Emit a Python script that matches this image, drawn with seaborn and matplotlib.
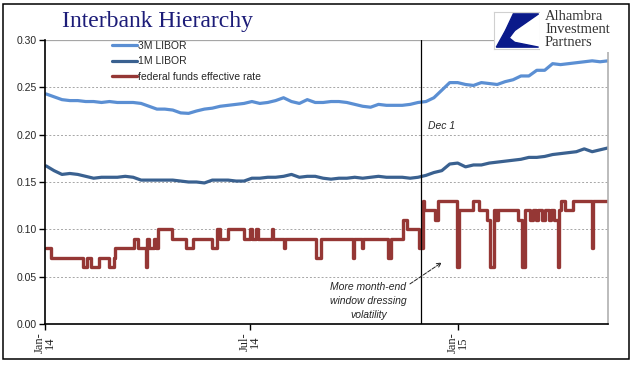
import pandas as pd
import numpy as np
import seaborn as sns
import matplotlib.pyplot as plt
import matplotlib.dates as mdates
from matplotlib.patches import Rectangle, Polygon

# weekly LIBOR readings, starting 2014-01-02
libor_start = "2014-01-02"
libor_3m = [0.243, 0.240, 0.237, 0.236, 0.236, 0.235, 0.235, 0.234, 0.235, 0.234,
            0.234, 0.234, 0.233, 0.230, 0.227, 0.227, 0.226, 0.223, 0.2225, 0.225,
            0.227, 0.228, 0.230, 0.231, 0.232, 0.233, 0.235, 0.233, 0.234, 0.236,
            0.239, 0.235, 0.233, 0.237, 0.234, 0.234, 0.235, 0.235, 0.234, 0.232,
            0.230, 0.229, 0.232, 0.231, 0.231, 0.231, 0.232, 0.234, 0.235, 0.239,
            0.247, 0.255, 0.255, 0.253, 0.252, 0.255, 0.254, 0.253, 0.256, 0.258,
            0.262, 0.262, 0.268, 0.268, 0.275, 0.274, 0.275, 0.276, 0.277, 0.278,
            0.277, 0.278]
libor_1m = [0.167, 0.162, 0.158, 0.159, 0.158, 0.156, 0.154, 0.155, 0.155, 0.155,
            0.156, 0.155, 0.152, 0.152, 0.152, 0.152, 0.152, 0.151, 0.150, 0.150,
            0.149, 0.152, 0.152, 0.152, 0.151, 0.151, 0.154, 0.154, 0.155, 0.155,
            0.156, 0.158, 0.155, 0.156, 0.156, 0.154, 0.153, 0.154, 0.154, 0.155,
            0.154, 0.155, 0.156, 0.155, 0.155, 0.155, 0.154, 0.155, 0.157, 0.160,
            0.162, 0.169, 0.170, 0.166, 0.168, 0.168, 0.170, 0.171, 0.172, 0.173,
            0.174, 0.176, 0.176, 0.177, 0.179, 0.180, 0.181, 0.182, 0.185, 0.182,
            0.184, 0.186]

# fed funds effective rate: dates where the value changes
ff_dates = ["2014-01-02", "2014-01-06", "2014-02-04", "2014-02-07", "2014-02-11",
            "2014-02-18", "2014-02-27", "2014-03-03", "2014-03-04", "2014-03-21",
            "2014-03-24", "2014-03-31", "2014-04-01", "2014-04-03", "2014-04-07",
            "2014-04-09", "2014-04-11", "2014-04-23", "2014-05-06", "2014-05-12",
            "2014-05-29", "2014-06-02", "2014-06-05", "2014-06-12", "2014-06-26",
            "2014-07-01", "2014-07-03", "2014-07-07", "2014-07-08", "2014-07-21",
            "2014-07-22", "2014-07-31", "2014-08-01", "2014-08-29", "2014-09-02",
            "2014-09-30", "2014-10-01", "2014-10-08", "2014-10-09", "2014-10-31",
            "2014-11-03", "2014-11-14", "2014-11-17", "2014-11-28", "2014-12-01",
            "2014-12-02", "2014-12-12", "2014-12-15", "2014-12-31", "2015-01-02",
            "2015-01-15", "2015-01-20", "2015-01-27", "2015-01-30", "2015-02-02",
            "2015-02-03", "2015-02-04", "2015-02-05", "2015-02-06", "2015-02-23",
            "2015-02-27", "2015-03-02", "2015-03-06", "2015-03-09", "2015-03-11",
            "2015-03-13", "2015-03-17", "2015-03-19", "2015-03-23", "2015-03-25",
            "2015-03-27", "2015-03-31", "2015-04-01", "2015-04-02", "2015-04-06",
            "2015-04-13", "2015-04-30", "2015-05-01", "2015-05-14"]
ff_values = [0.08, 0.07, 0.06, 0.07, 0.06,
             0.07, 0.06, 0.07, 0.08, 0.09,
             0.08, 0.06, 0.09, 0.08, 0.09,
             0.08, 0.10, 0.09, 0.08, 0.09,
             0.08, 0.10, 0.09, 0.10, 0.09,
             0.10, 0.09, 0.10, 0.09, 0.10,
             0.09, 0.08, 0.09, 0.07, 0.09,
             0.07, 0.09, 0.08, 0.09, 0.07,
             0.09, 0.11, 0.10, 0.08, 0.13,
             0.12, 0.11, 0.13, 0.06, 0.12,
             0.13, 0.12, 0.11, 0.06, 0.12,
             0.11, 0.12, 0.11, 0.12, 0.11,
             0.06, 0.12, 0.11, 0.12, 0.11,
             0.12, 0.11, 0.12, 0.11, 0.12,
             0.11, 0.06, 0.12, 0.13, 0.12,
             0.13, 0.08, 0.13, 0.13]

y_ticks = [0.00, 0.05, 0.10, 0.15, 0.20, 0.25, 0.30]
x_ticks = ["2014-01-01", "2014-07-01", "2015-01-01"]
x_ticklabels = ["Jan-\n14", "Jul-\n14", "Jan-\n15"]


def main():
    sns.set_style("white")
    plt.rcParams['font.family'] = ['Liberation Sans', 'DejaVu Sans']

    libor = pd.DataFrame({
        "date": pd.date_range(libor_start, periods=len(libor_3m), freq="7D"),
        "3m": libor_3m,
        "1m": libor_1m,
    })
    ff = pd.DataFrame({"date": pd.to_datetime(ff_dates), "rate": ff_values})

    fig = plt.figure(figsize=(6.41, 3.75), dpi=100)
    ax = fig.add_axes([45 / 641, 1 - 324 / 375, 563 / 641, 284 / 375])

    sns.lineplot(data=libor, x="date", y="3m", ax=ax, color="#5b8fd3", lw=2.3,
                 label="3M LIBOR")
    sns.lineplot(data=libor, x="date", y="1m", ax=ax, color="#3a6190", lw=2.3,
                 label="1M LIBOR")
    sns.lineplot(data=ff, x="date", y="rate", ax=ax, color="#953735", lw=2.4,
                 drawstyle="steps-post", label="federal funds effective rate")

    ax.set_xlim(pd.Timestamp("2014-01-01"), pd.Timestamp("2015-05-14"))
    ax.set_ylim(0, 0.30)
    ax.set_xlabel("")
    ax.set_ylabel("")

    ax.set_yticks(y_ticks)
    ax.set_yticklabels([f"{v:.2f}" for v in y_ticks], fontsize=7.5)
    ax.set_xticks(pd.to_datetime(x_ticks))
    ax.set_xticklabels(x_ticklabels, rotation=90, fontsize=9,
                       family="Liberation Serif", linespacing=0.85, va="top")
    ax.tick_params(axis="both", direction="out", length=4, width=1, color="black",
                   pad=2, left=True, bottom=True)

    for v in y_ticks[1:-1]:
        ax.axhline(v, color="#a6a6a6", lw=0.7, ls=(0, (2, 2)), zorder=0)
    ax.axhline(0.30, color="#a6a6a6", lw=0.9, zorder=0)

    ax.spines["top"].set_visible(False)
    ax.spines["right"].set_color("#b0b0b0")
    ax.spines["right"].set_linewidth(1.2)
    ax.spines["left"].set_color("black")
    ax.spines["bottom"].set_color("black")
    ax.spines["left"].set_linewidth(1.2)
    ax.spines["bottom"].set_linewidth(1.2)

    # Dec 1 marker
    dec1 = pd.Timestamp("2014-11-30")
    ax.axvline(dec1, color="black", lw=0.9)
    ax.text(pd.Timestamp("2014-12-06"), 0.209, "Dec 1", fontsize=7.5,
            style="italic", ha="left", va="center")

    ax.annotate("More month-end\nwindow dressing\nvolatility",
                xy=(pd.Timestamp("2014-12-18"), 0.065),
                xytext=(pd.Timestamp("2014-10-14"), 0.044),
                fontsize=7.5, style="italic", ha="center", va="top",
                linespacing=1.5,
                arrowprops=dict(arrowstyle="->", color="#222222", lw=0.7,
                                ls=(0, (4, 1.5)), shrinkA=0, shrinkB=0,
                                relpos=(1.0, 0.9)))

    ax.legend(loc="upper left", bbox_to_anchor=(0.115, 1.005), frameon=False,
              fontsize=7.5, handlelength=2.4, handletextpad=0.15,
              labelspacing=0.55, borderaxespad=0, borderpad=0.2)

    # title
    fig.text(62 / 641, 1 - 21 / 375, "Interbank Hierarchy", fontsize=17,
             family="Liberation Serif", color="#1c1c78", va="center", ha="left")

    # logo
    logo = fig.add_axes([494 / 641, 1 - 49 / 375, 46 / 641, 37 / 375])
    logo.set_xlim(0, 1)
    logo.set_ylim(0, 1)
    logo.set_xticks([])
    logo.set_yticks([])
    for s in logo.spines.values():
        s.set_color("#d0d0d0")
        s.set_linewidth(0.8)
    logo.add_patch(Polygon([(0.42, 0.95), (0.97, 0.95), (0.45, 0.5), (0.25, 0.5)],
                           color="#0a1a8a"))
    logo.add_patch(Polygon([(0.05, 0.05), (0.25, 0.5), (0.45, 0.5), (0.33, 0.3),
                            (0.45, 0.18), (0.97, 0.05)], color="#0a1a8a"))
    cover = fig.add_axes([540 / 641, 1 - 52 / 375, 85 / 641, 47 / 375])
    cover.axis("off")
    cover.add_patch(Rectangle((0, 0), 1, 1, color="white", transform=cover.transAxes))
    for i, word in enumerate(["Alhambra", "Investment", "Partners"]):
        fig.text(545 / 641, 1 - (16 + 13.5 * i) / 375, word, fontsize=10.5,
                 family="Liberation Serif", color="#333333", va="center", ha="left")

    # outer frame
    fig.patches.append(Rectangle((3 / 641, 1 - 359 / 375), 626 / 641, 355 / 375,
                                 fill=False, ec="black", lw=1.1,
                                 transform=fig.transFigure, figure=fig))

    fig.savefig("out.png", dpi=100)


if __name__ == "__main__":
    main()
